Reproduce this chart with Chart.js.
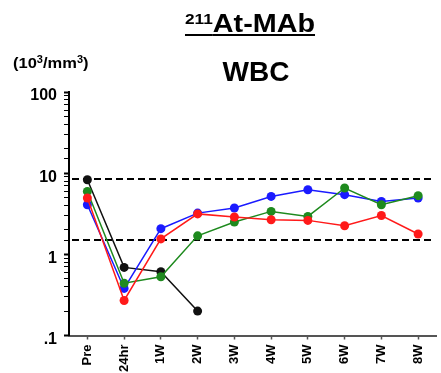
<!DOCTYPE html>
<html><head><meta charset="utf-8">
<script src="https://cdn.jsdelivr.net/npm/chart.js@4/dist/chart.umd.min.js"></script>
<style>
html,body{margin:0;padding:0;background:#fff;}
#wrap{position:relative;width:441px;height:373px;overflow:hidden;font-family:"Liberation Sans",Arial,sans-serif;}
#c{position:absolute;left:0;top:0;}
.t{position:absolute;font-weight:bold;color:#000;white-space:nowrap;line-height:1;}
</style></head><body>
<div id="wrap">
<canvas id="c" width="441" height="373"></canvas>
<div class="t" style="left:250px;top:11px;transform:translateX(-50%) scaleX(1.15);font-size:25px;text-decoration:underline;text-decoration-thickness:2px;text-underline-offset:2px;"><span style="font-size:15px;position:relative;top:-8px;">211</span>At-MAb</div>
<div class="t" style="left:256px;top:58px;transform:translateX(-50%);font-size:28px;">WBC</div>
<div class="t" style="left:13px;top:55px;font-size:15px;transform:scaleX(1.1);transform-origin:left center;">(10<span style="font-size:10px;position:relative;top:-5px;">3</span>/mm<span style="font-size:10px;position:relative;top:-5px;">3</span>)</div>
</div>
<script>
const categories = ['Pre','24hr','1W','2W','3W','4W','5W','6W','7W','8W'];
const yTickLabels = {'-1':'.1','0':'1','1':'10','2':'100'};
const blackValues = [8.3, 0.69, 0.61, 0.20];
const greenValues = [5.96, 0.44, 0.53, 1.69, 2.50, 3.38, 2.93, 6.56, 4.08, 5.28];
const redValues   = [4.94, 0.27, 1.55, 3.15, 2.88, 2.67, 2.62, 2.25, 3.01, 1.78];
const blueValues  = [4.08, 0.38, 2.07, 3.22, 3.72, 5.17, 6.25, 5.43, 4.48, 4.94];
const refLines = [8.5, 1.5];

const refPlugin = {
  id:'refLines',
  beforeDatasetsDraw(chart){
    const {ctx, chartArea, scales} = chart;
    ctx.save();
    ctx.strokeStyle = '#000';
    ctx.lineWidth = 2;
    ctx.setLineDash([7,4]);
    refLines.forEach(v=>{
      const y = scales.y.getPixelForValue(v);
      ctx.beginPath();
      ctx.moveTo(chartArea.left+3, y);
      ctx.lineTo(chartArea.right-3, y);
      ctx.stroke();
    });
    ctx.restore();
  }
};

function isMajor(v){ const l = Math.log10(v); return Math.abs(l-Math.round(l))<1e-6; }
function ds(label,data,color){
  return {label,data,borderColor:color,backgroundColor:color,borderWidth:1.5,
    pointRadius:4.5,pointHoverRadius:4.5,pointBorderWidth:0,tension:0};
}

new Chart(document.getElementById('c'),{
  type:'line',
  data:{labels:categories,datasets:[
    ds('Red',redValues,'#ff1a1a'),
    ds('Green',greenValues,'#1e8a1e'),
    ds('Blue',blueValues,'#1a1aff'),
    ds('Black',blackValues,'#111111')
  ]},
  options:{
    responsive:false,animation:false,devicePixelRatio:1,
    layout:{padding:{top:92,right:4,left:0,bottom:0}},
    plugins:{legend:{display:false},tooltip:{enabled:false}},
    scales:{
      x:{type:'category',offset:true,
        afterFit(s){s.height=37.5;},
        border:{color:'#555',width:2},
        grid:{drawOnChartArea:false,offset:false,tickLength:4,tickColor:'#555',tickWidth:1.5},
        ticks:{color:'#000',minRotation:90,maxRotation:90,padding:5,autoSkip:false,
          font:{family:'"Liberation Sans", Arial, sans-serif',size:13,weight:'bold'}}
      },
      y:{type:'logarithmic',min:0.1,max:100,
        afterFit(s){s.width=69;},
        border:{color:'#000',width:2},
        grid:{drawOnChartArea:false,tickLength:5,tickColor:'#000',
          tickWidth:(c)=> (c.tick && isMajor(c.tick.value)) ? 2 : 1},
        ticks:{color:'#000',padding:7,autoSkip:false,labelOffset:4,
          font:{family:'"Liberation Sans", Arial, sans-serif',size:16,weight:'bold'},
          callback:(v)=> isMajor(v) ? yTickLabels[String(Math.round(Math.log10(v)))] : ''}
      }
    }
  },
  plugins:[refPlugin]
});
</script>
</body></html>
